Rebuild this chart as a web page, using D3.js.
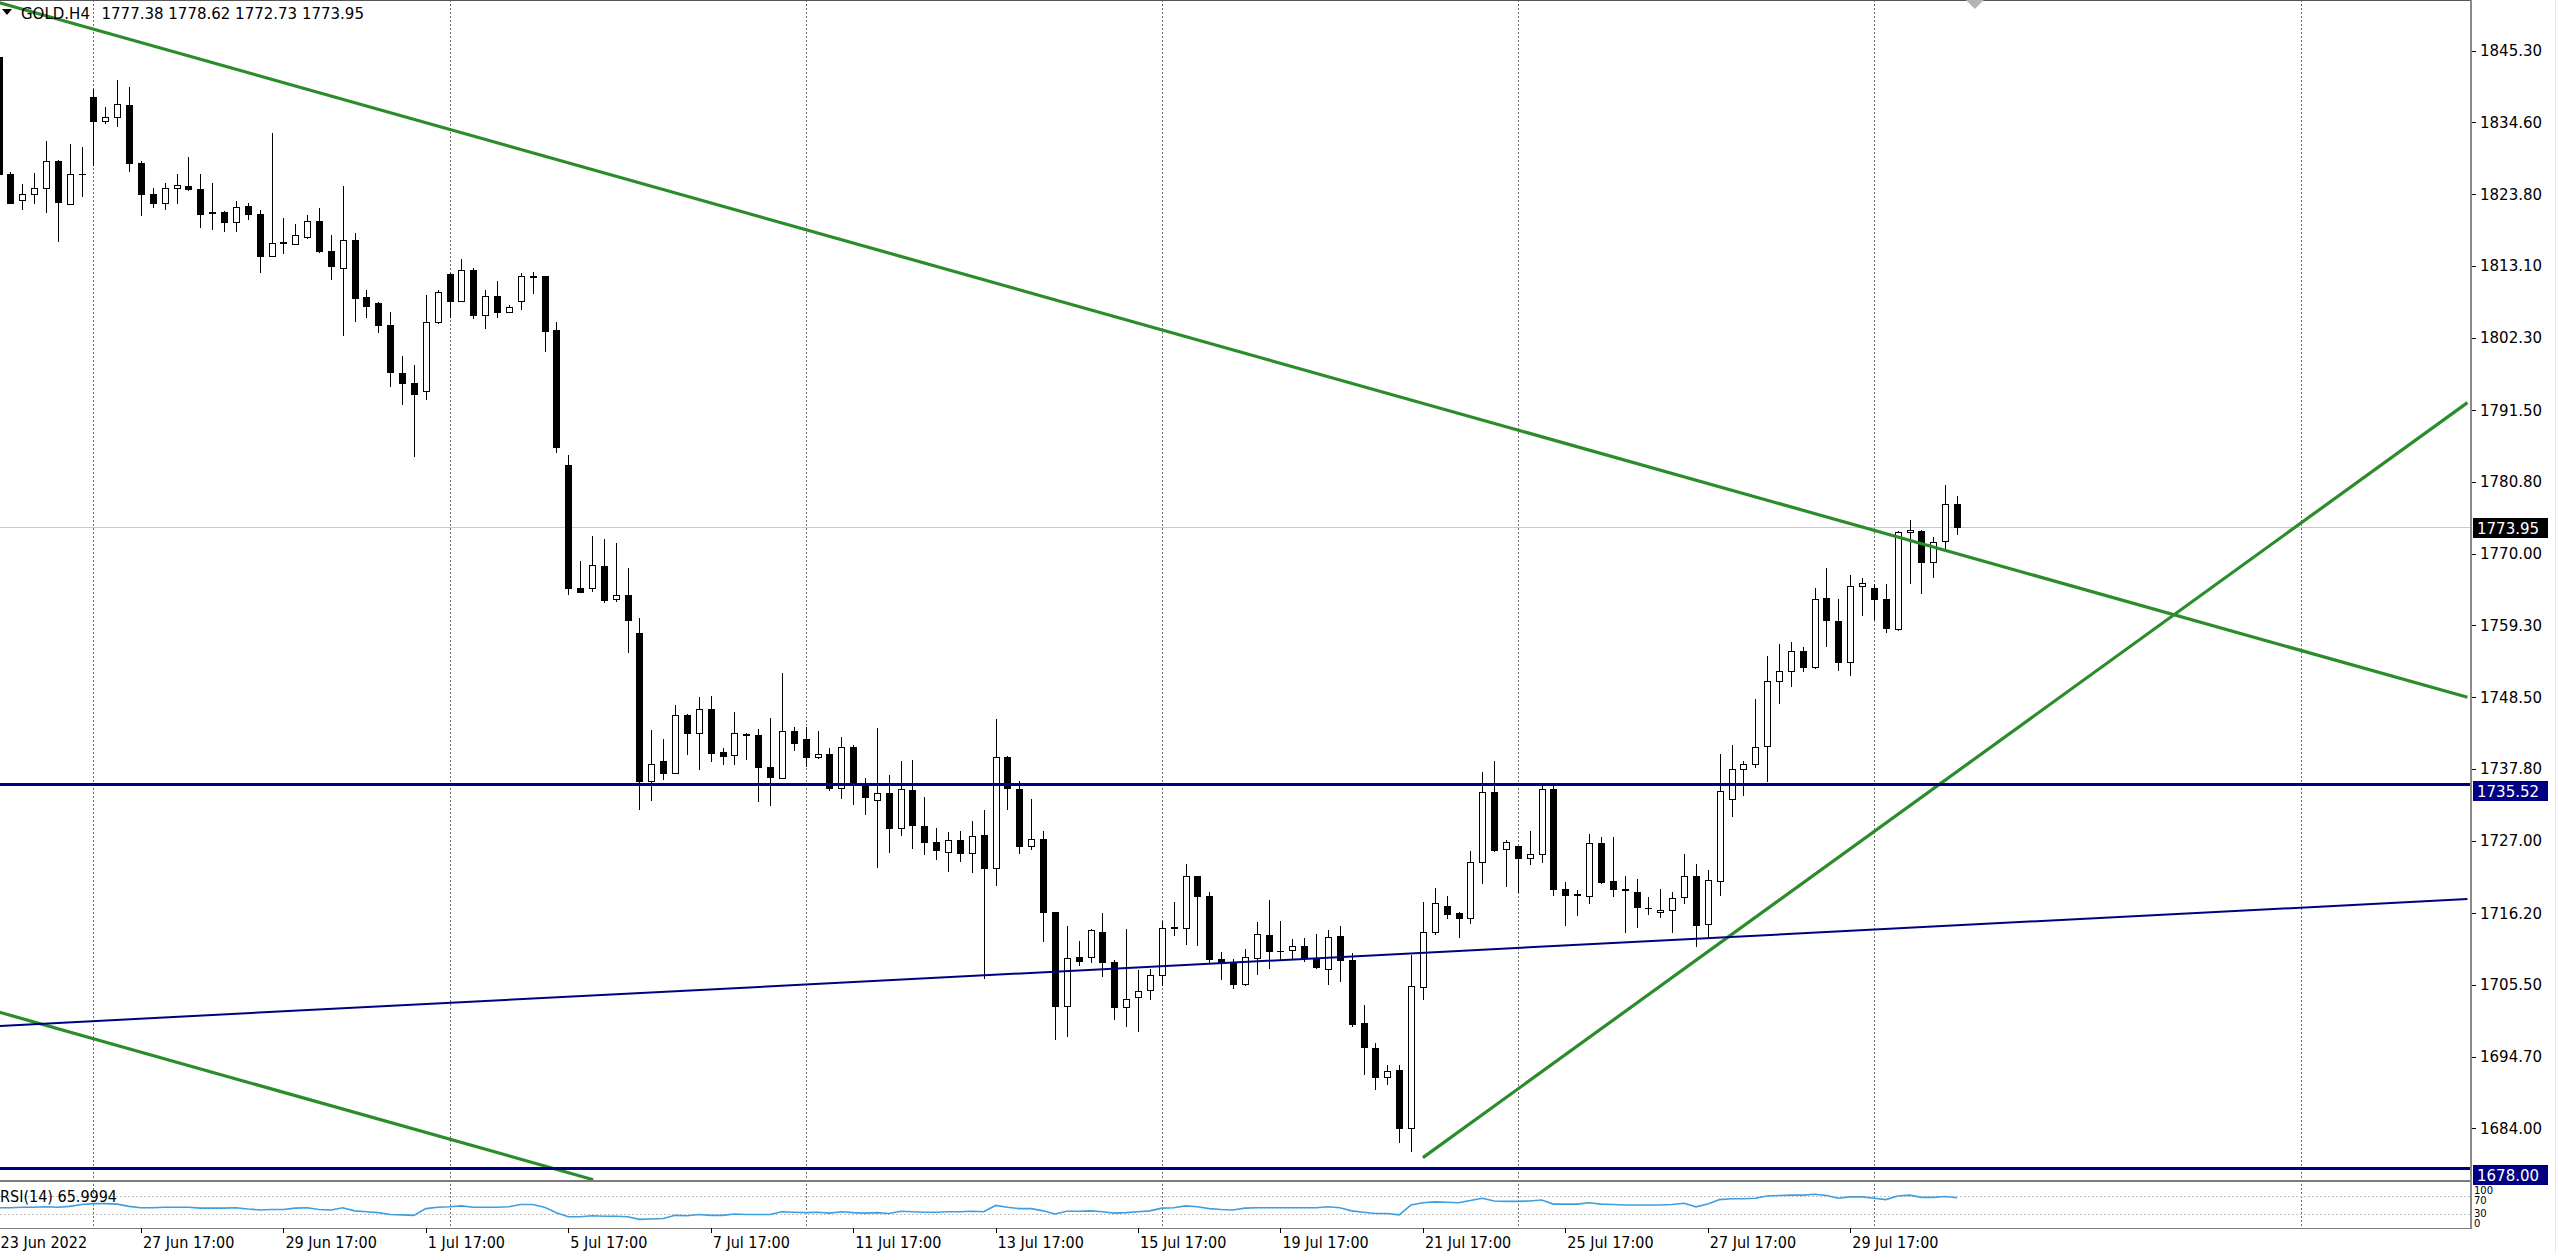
<!DOCTYPE html>
<html><head><meta charset="utf-8">
<script src="https://cdn.jsdelivr.net/npm/d3@7"></script>
<style>
html,body{margin:0;padding:0;background:#fff;overflow:hidden}
svg{display:block}
</style></head><body>
<svg id="c" width="2560" height="1253"></svg>
<script>
// ---------- DATA ----------
const symbolName = "GOLD.H4";
const opens = [1844.4,1826.8,1823.0,1823.8,1824.7,1828.7,1822.4,1826.9,1838.3,1834.7,
1835.4,1837.2,1828.5,1823.9,1822.5,1824.8,1825.0,1824.6,1821.2,1821.2,
1819.6,1822.0,1820.8,1814.6,1816.6,1816.4,1817.4,1819.8,1815.3,1812.8,
1817.0,1808.4,1807.5,1804.2,1797.1,1795.6,1794.4,1804.6,1811.9,1807.8,
1812.4,1805.7,1808.6,1806.1,1807.8,1811.4,1811.5,1803.5,1783.3,1764.8,
1764.8,1768.2,1763.2,1763.8,1758.1,1735.9,1738.9,1737.1,1745.9,1743.1,
1746.7,1740.3,1739.9,1743.0,1742.9,1738.0,1736.4,1743.5,1742.3,1739.5,
1740.0,1734.9,1741.0,1735.7,1733.1,1734.2,1729.0,1734.6,1729.3,1726.9,
1725.3,1727.1,1725.2,1727.9,1723.0,1739.6,1734.8,1726.3,1727.3,1716.3,
1702.3,1709.7,1709.6,1713.4,1708.9,1702.2,1703.7,1704.7,1707.0,1714.0,
1714.0,1721.8,1718.7,1709.4,1708.9,1705.6,1709.5,1712.9,1710.6,1710.7,
1711.2,1709.4,1707.9,1712.7,1709.2,1699.8,1696.0,1691.6,1692.7,1684.1,
1705.1,1713.3,1717.3,1716.2,1715.4,1723.9,1734.3,1725.8,1726.2,1724.4,
1725.0,1734.7,1719.8,1719.0,1718.7,1726.7,1721.0,1719.8,1719.4,1717.0,
1716.4,1716.6,1718.6,1721.8,1714.6,1721.0,1733.3,1737.8,1738.5,1741.2,
1751.0,1752.4,1755.4,1753.1,1763.4,1759.9,1753.8,1765.2,1764.8,1763.2,
1758.7,1773.2,1773.4,1768.8,1771.9,1777.38];
const highs = [1845.5,1827.1,1825.3,1827.0,1831.7,1828.9,1831.3,1830.9,1839.5,1836.8,
1840.9,1839.8,1828.7,1824.7,1825.5,1826.8,1829.4,1826.8,1825.5,1821.3,
1822.8,1822.5,1821.5,1832.9,1820.3,1819.3,1820.7,1821.8,1817.7,1825.1,
1818.0,1809.5,1807.7,1806.2,1799.6,1798.2,1808.7,1809.5,1812.0,1814.1,
1812.7,1809.5,1810.8,1807.2,1812.0,1812.1,1811.6,1804.6,1784.8,1768.9,
1772.6,1772.2,1771.6,1767.8,1760.3,1743.6,1742.3,1747.4,1746.0,1748.5,
1748.7,1740.9,1746.3,1743.2,1743.7,1745.4,1752.2,1744.1,1744.1,1743.4,
1740.9,1742.5,1741.4,1736.4,1743.9,1736.9,1738.9,1739.1,1733.6,1728.9,
1728.4,1728.5,1730.0,1731.6,1745.2,1739.7,1735.9,1733.3,1728.5,1716.4,
1714.3,1712.0,1713.8,1716.2,1709.2,1713.8,1707.7,1707.8,1715.0,1717.9,
1723.6,1721.8,1719.3,1710.4,1709.4,1710.8,1714.8,1718.2,1715.0,1712.3,
1712.5,1713.0,1713.7,1714.2,1710.2,1702.4,1696.8,1693.5,1693.5,1709.9,
1717.8,1719.9,1718.8,1716.3,1725.5,1737.3,1738.9,1727.1,1726.3,1728.5,
1735.7,1735.2,1720.8,1719.6,1728.0,1727.6,1727.6,1721.7,1721.3,1718.6,
1719.8,1719.4,1725.0,1723.5,1722.6,1740.0,1741.3,1739.0,1748.3,1754.7,
1756.5,1756.8,1756.0,1764.8,1767.8,1763.2,1766.8,1766.3,1765.4,1765.4,
1773.4,1775.0,1773.5,1772.5,1780.3,1778.62];
const lows = [1825.9,1822.4,1821.5,1822.3,1821.0,1816.7,1822.2,1823.4,1828.0,1834.3,
1833.8,1827.2,1820.5,1821.8,1821.4,1822.3,1824.3,1818.7,1818.5,1818.2,
1818.2,1819.9,1812.0,1814.5,1814.8,1816.2,1817.1,1815.0,1811.0,1802.6,
1804.7,1805.2,1803.0,1795.0,1792.3,1784.4,1793.0,1804.4,1805.2,1807.6,
1805.1,1803.7,1805.2,1806.0,1806.4,1808.8,1800.2,1785.1,1763.8,1764.1,
1764.2,1762.6,1762.8,1755.2,1731.7,1733.0,1736.1,1737.0,1739.9,1737.6,
1738.8,1738.4,1738.4,1739.1,1732.9,1732.3,1736.2,1740.5,1738.1,1739.2,
1734.4,1733.3,1732.4,1730.9,1722.9,1725.2,1727.7,1725.8,1724.9,1724.2,
1722.3,1723.9,1722.2,1706.4,1720.2,1731.6,1725.0,1725.7,1711.9,1697.2,
1697.6,1708.3,1708.8,1706.6,1700.2,1699.2,1698.4,1703.2,1705.3,1712.7,
1711.4,1711.2,1708.7,1706.2,1704.8,1705.3,1706.9,1707.9,1709.2,1709.2,
1708.9,1707.8,1705.4,1705.9,1699.2,1692.0,1689.7,1690.5,1681.8,1680.5,
1703.2,1712.9,1715.3,1712.4,1714.6,1720.5,1725.3,1720.1,1719.2,1723.4,
1723.7,1718.7,1714.3,1715.8,1717.5,1720.5,1718.6,1713.2,1714.0,1715.9,
1715.5,1713.2,1717.5,1711.1,1712.5,1718.7,1730.6,1733.7,1737.9,1735.8,
1747.5,1750.0,1752.3,1752.8,1756.1,1752.4,1751.7,1760.6,1760.0,1758.1,
1758.4,1765.5,1764.0,1766.4,1770.7,1772.73];
const closes = [1826.9,1822.5,1823.8,1824.7,1828.7,1822.6,1826.8,1826.8,1834.7,1835.4,
1837.3,1828.4,1823.9,1822.5,1824.8,1825.2,1824.6,1820.9,1821.0,1819.7,
1821.9,1820.8,1814.6,1816.5,1816.5,1817.7,1819.8,1815.3,1813.0,1817.0,
1808.3,1807.0,1804.2,1797.2,1795.6,1793.9,1804.7,1809.1,1807.8,1812.5,
1805.7,1808.6,1806.2,1806.9,1811.5,1811.6,1803.4,1786.0,1764.8,1764.2,
1768.3,1763.1,1763.8,1760.0,1735.9,1738.5,1737.1,1745.9,1743.1,1746.8,
1740.1,1739.7,1743.1,1742.9,1738.1,1736.6,1743.5,1741.7,1739.6,1740.0,
1734.9,1741.1,1735.7,1733.6,1734.2,1729.0,1734.7,1729.4,1726.9,1725.7,
1727.1,1725.2,1727.7,1723.0,1739.6,1734.9,1726.3,1727.3,1716.3,1702.3,
1709.5,1709.1,1713.6,1708.9,1702.2,1703.3,1704.5,1707.0,1714.0,1714.1,
1721.8,1718.7,1709.4,1708.7,1705.6,1709.7,1713.0,1710.6,1710.5,1711.2,
1709.5,1708.1,1712.6,1709.2,1699.6,1696.1,1691.6,1692.6,1684.1,1705.3,
1713.4,1717.7,1716.1,1715.4,1723.9,1734.3,1725.7,1726.8,1724.4,1725.0,
1734.7,1719.8,1718.9,1719.1,1726.7,1720.8,1719.8,1719.8,1717.1,1716.9,
1716.6,1718.5,1721.8,1714.4,1721.2,1734.4,1737.8,1738.5,1741.1,1751.0,
1752.4,1755.4,1753.1,1763.2,1760.0,1753.8,1765.1,1765.6,1763.2,1758.8,
1773.2,1773.5,1768.8,1771.8,1777.4,1773.95];
const rsiValues = [44,44,45,45,46,45,47,51,53,53,
52,47,44,44,45,45,45,43,43,43,
44,41,39,40,40,43,44,40,39,44,
37,35,33,29,28,27,42,45,46,48,
45,45,45,46,51,51,45,33,24,24,
26,25,25,24,18,19,20,27,26,29,
27,27,30,29,29,29,35,34,33,34,
32,35,33,32,33,31,36,35,34,34,
35,35,36,35,49,45,42,42,37,30,
36,36,37,35,32,33,35,37,43,44,
48,46,42,40,39,43,44,44,44,44,
44,44,46,44,37,34,31,31,28,50,
55,57,56,55,60,65,59,58,58,59,
61,52,52,52,55,52,51,50,50,50,
50,51,54,46,52,62,64,64,65,70,
71,72,72,74,71,65,68,68,65,62,
70,72,67,67,69,66];
const rsiLast = "65.9994";
const priceTicks = [1845.30,1834.60,1823.80,1813.10,1802.30,1791.50,1780.80,1770.00,1759.30,1748.50,1737.80,1727.00,1716.20,1705.50,1694.70,1684.00];
const dateTickIdx = [0,12,24,36,48,60,72,84,96,108,120,132,144,156];
const dateTickLabels = ["23 Jun 2022","27 Jun 17:00","29 Jun 17:00","1 Jul 17:00","5 Jul 17:00","7 Jul 17:00","11 Jul 17:00","13 Jul 17:00","15 Jul 17:00","19 Jul 17:00","21 Jul 17:00","25 Jul 17:00","27 Jul 17:00","29 Jul 17:00"];
const gridIdx = [8,38,68,98,128,158,194];
const greenLines = [[[0,1852.5],[208,1748.5]], [[0,1701.4],[50.1,1676.3]], [[120,1679.6],[208,1792.6]]];
const navyLine = [[0,1699.3],[208,1718.3]];
const levelLines = [1735.52, 1678.00];
const bidPrice = 1773.95;
const rsiLevels = [70, 30];
const rsiAxisLabels = [100, 70, 30, 0];

// ---------- LAYOUT ----------
const plotR = 2470, mainB = 1180, rsiT = 1181, rsiB = 1228;
const x = d3.scaleLinear().domain([0, 208]).range([-1.5, 2467.46]);
const y = d3.scaleLinear().domain([1676.25, 1852.87]).range([mainB, 0]);
const yr = d3.scaleLinear().domain([0, 100]).range([1227.5, 1182.5]);
const AX = "'DejaVu Sans', Verdana, sans-serif";
const CND = "'DejaVu Sans Condensed', 'DejaVu Sans', sans-serif";

const svg = d3.select("#c");
svg.append("rect").attr("width", 2560).attr("height", 1253).attr("fill", "#fff");
const defs = svg.append("defs");
defs.append("clipPath").attr("id", "cm").append("rect").attr("x", 0).attr("y", 0).attr("width", plotR).attr("height", mainB);
defs.append("clipPath").attr("id", "cr").append("rect").attr("x", 0).attr("y", rsiT).attr("width", plotR).attr("height", rsiB - rsiT);

// vertical grid
svg.append("g").selectAll("line").data(gridIdx).join("line")
  .attr("x1", d => Math.round(x(d)) + 0.5).attr("x2", d => Math.round(x(d)) + 0.5)
  .attr("y1", 0).attr("y2", rsiB)
  .attr("stroke", "#6e6e6e").attr("stroke-width", 1).attr("stroke-dasharray", "2,2");

// bid line
svg.append("line").attr("x1", 0).attr("x2", plotR)
  .attr("y1", Math.round(y(bidPrice)) + 0.5).attr("y2", Math.round(y(bidPrice)) + 0.5)
  .attr("stroke", "#c8c8c8").attr("stroke-width", 1);

// rsi levels
svg.append("g").selectAll("line").data(rsiLevels).join("line")
  .attr("x1", 0).attr("x2", plotR)
  .attr("y1", d => Math.round(yr(d)) + 0.5).attr("y2", d => Math.round(yr(d)) + 0.5)
  .attr("stroke", "#c0c0c0").attr("stroke-dasharray", "2,2");

// candles
const cg = svg.append("g").attr("clip-path", "url(#cm)").attr("shape-rendering", "crispEdges");
const idx = d3.range(opens.length);
idx.forEach(i => {
  const cx = Math.round(x(i));
  const o = opens[i], c = closes[i], h = highs[i], l = lows[i];
  cg.append("line").attr("x1", cx + 0.5).attr("x2", cx + 0.5)
    .attr("y1", Math.round(y(h))).attr("y2", Math.round(y(l)))
    .attr("stroke", "#000").attr("stroke-width", 1);
  const top = Math.round(y(Math.max(o, c))), bot = Math.round(y(Math.min(o, c)));
  if (c >= o) {
    cg.append("rect").attr("x", cx - 2.5).attr("y", top + 0.5)
      .attr("width", 6).attr("height", Math.max(1, bot - top))
      .attr("fill", "#fff").attr("stroke", "#000").attr("stroke-width", 1);
  } else {
    cg.append("rect").attr("x", cx - 3).attr("y", top)
      .attr("width", 7).attr("height", Math.max(1, bot - top + 1))
      .attr("fill", "#000");
  }
});

// trend lines
const tg = svg.append("g").attr("clip-path", "url(#cm)");
const ln = d3.line().x(d => x(d[0])).y(d => y(d[1]));
tg.selectAll("path.g").data(greenLines).join("path").attr("class", "g")
  .attr("d", ln).attr("fill", "none").attr("stroke", "#2a8c2a").attr("stroke-width", 3.2);
tg.append("path").attr("d", ln(navyLine)).attr("fill", "none").attr("stroke", "#000080").attr("stroke-width", 2);
tg.selectAll("line.lv").data(levelLines).join("line").attr("class", "lv")
  .attr("x1", 0).attr("x2", plotR)
  .attr("y1", d => Math.round(y(d)) + 0.5).attr("y2", d => Math.round(y(d)) + 0.5)
  .attr("stroke", "#000080").attr("stroke-width", 3);

// RSI line
svg.append("path").attr("clip-path", "url(#cr)")
  .attr("d", d3.line().x((d, i) => x(i)).y(d => yr(d))(rsiValues))
  .attr("fill", "none").attr("stroke", "#3e9ee0").attr("stroke-width", 1.6);

// frames
svg.append("line").attr("x1", 0).attr("x2", plotR + 1).attr("y1", 0.5).attr("y2", 0.5).attr("stroke", "#555");
svg.append("line").attr("x1", 0).attr("x2", plotR + 1).attr("y1", mainB + 1).attr("y2", mainB + 1).attr("stroke", "#7a7a7a").attr("stroke-width", 2);
svg.append("line").attr("x1", 0).attr("x2", plotR + 1).attr("y1", rsiB + 0.5).attr("y2", rsiB + 0.5).attr("stroke", "#7a7a7a");
svg.append("line").attr("x1", plotR + 1).attr("x2", plotR + 1).attr("y1", 0).attr("y2", rsiB + 1).attr("stroke", "#8a8a8a").attr("stroke-width", 2);
svg.append("line").attr("x1", 2555.5).attr("x2", 2555.5).attr("y1", 0).attr("y2", 1253).attr("stroke", "#e6e6e6");

// right price axis
const pa = svg.append("g");
pa.selectAll("line").data(priceTicks).join("line")
  .attr("x1", plotR + 2).attr("x2", plotR + 6)
  .attr("y1", d => Math.round(y(d)) + 0.5).attr("y2", d => Math.round(y(d)) + 0.5)
  .attr("stroke", "#000");
pa.selectAll("text").data(priceTicks).join("text")
  .attr("x", 2480).attr("y", d => y(d) + 5.5)
  .attr("font-family", AX).attr("font-size", 15).attr("fill", "#000")
  .text(d => d.toFixed(2));

// price boxes
function box(p, top, fill) {
  svg.append("rect").attr("x", 2473).attr("y", top).attr("width", 75).attr("height", 20).attr("fill", fill);
  svg.append("text").attr("x", 2477).attr("y", top + 15.5).attr("font-family", AX).attr("font-size", 15)
    .attr("fill", "#fff").text(p.toFixed(2));
}
box(bidPrice, Math.round(y(bidPrice)) - 9, "#000");
levelLines.forEach(p => box(p, Math.round(y(p)) - 3, "#000080"));

// RSI axis labels (compact, stacked so they stay readable in the thin pane)
const rsiLabY = {100: 1194, 70: 1204, 30: 1217, 0: 1227};
svg.append("g").selectAll("text").data(rsiAxisLabels).join("text")
  .attr("x", 2474).attr("y", d => rsiLabY[d])
  .attr("font-family", AX).attr("font-size", 10).attr("fill", "#000").text(d => d);

// date axis
const da = svg.append("g");
da.selectAll("line").data(dateTickIdx).join("line")
  .attr("x1", d => Math.round(x(d)) + 0.5).attr("x2", d => Math.round(x(d)) + 0.5)
  .attr("y1", rsiB).attr("y2", rsiB + 5).attr("stroke", "#000");
da.selectAll("text").data(dateTickIdx).join("text")
  .attr("x", d => Math.max(0, x(d) + 2)).attr("y", 1248)
  .attr("font-family", CND).attr("font-size", 16).attr("fill", "#000")
  .text((d, i) => dateTickLabels[i]);

// RSI caption
svg.append("text").attr("x", 0).attr("y", 1201.5).attr("font-family", CND).attr("font-size", 16)
  .attr("fill", "#000").text("RSI(14) " + rsiLast);

// header
const last = opens.length - 1;
svg.append("path").attr("d", "M2,9 L12,9 L7,15 Z").attr("fill", "#000");
svg.append("text").attr("x", 21).attr("y", 19).attr("font-family", AX).attr("font-size", 15).attr("fill", "#000").text(symbolName);
svg.append("text").attr("x", 101.5).attr("y", 19).attr("font-family", AX).attr("font-size", 15).attr("fill", "#000")
  .text([opens[last], highs[last], lows[last], closes[last]].map(v => v.toFixed(2)).join(" "));

// chart-shift marker
const sx = x(166.5);
svg.append("path").attr("d", `M${sx - 9},0 L${sx + 9},0 L${sx},9 Z`).attr("fill", "#b4b4b4");
</script>
</body></html>
